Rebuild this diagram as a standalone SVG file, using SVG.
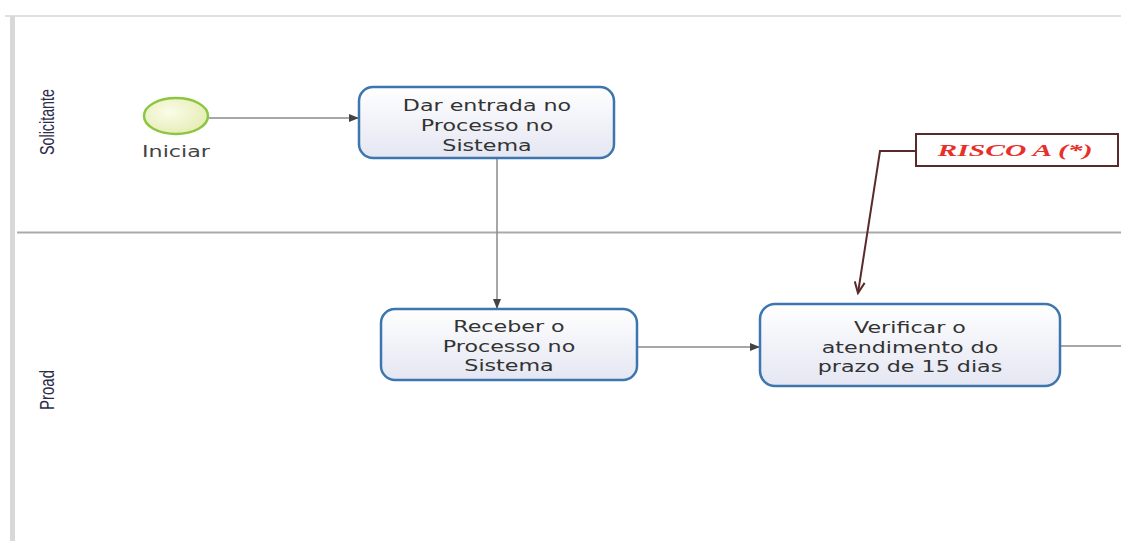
<svg xmlns="http://www.w3.org/2000/svg" width="1121" height="541" viewBox="0 0 1121 541">
<defs>
<linearGradient id="taskFill" x1="0" y1="0" x2="0" y2="1">
<stop offset="0" stop-color="#ffffff"/>
<stop offset="1" stop-color="#e4e6f2"/>
</linearGradient>
<radialGradient id="startFill" cx="0.4" cy="0.4" r="0.7">
<stop offset="0" stop-color="#fbfce8"/>
<stop offset="1" stop-color="#e3ebb0"/>
</radialGradient>
<marker id="arr" markerWidth="10" markerHeight="8" refX="9" refY="4" orient="auto" markerUnits="userSpaceOnUse">
<path d="M0,0 L10,4 L0,8 Z" fill="#444"/>
</marker>
<marker id="openArr" markerWidth="14" markerHeight="12" refX="12" refY="6" orient="auto" markerUnits="userSpaceOnUse">
<path d="M1,1 L12,6 L1,11" fill="none" stroke="#5a2a2a" stroke-width="2"/>
</marker>
</defs>
<style>
.task{fill:url(#taskFill);stroke:#3d76ae;stroke-width:2.5}
.tt{font-family:"DejaVu Sans",sans-serif;font-size:15px;fill:#333;text-anchor:middle}
.lane{font-family:"Liberation Sans",sans-serif;font-size:21px;fill:#2c2c4a;text-anchor:middle}
.flow{stroke:#8a8a8a;stroke-width:1.5;fill:none}
</style>
<rect width="1121" height="541" fill="#ffffff"/>
<g id="pool">
<line x1="5" y1="16" x2="1121" y2="16" stroke="#e0e0e0" stroke-width="2"/>
<rect x="10" y="16" width="5" height="525" fill="#d8d8d8"/>
<line x1="17" y1="232.500" x2="1121" y2="232.500" stroke="#aaaaaa" stroke-width="2"/>
<text class="lane" transform="translate(54,122) rotate(-90)" textLength="66" lengthAdjust="spacingAndGlyphs">Solicitante</text>
<text class="lane" transform="translate(54,390) rotate(-90)" textLength="40" lengthAdjust="spacingAndGlyphs">Proad</text>
</g>
<g id="connectors">
<line class="flow" x1="209" y1="118" x2="358" y2="118" marker-end="url(#arr)"/>
<line class="flow" x1="497" y1="159" x2="497" y2="308" marker-end="url(#arr)" stroke-width="2.5" stroke="#9a9a9a"/>
<line class="flow" x1="637" y1="347" x2="759" y2="347" marker-end="url(#arr)"/>
<line class="flow" x1="1061" y1="346" x2="1121" y2="346"/>
<polyline points="916,151 880,151 858,293" fill="none" stroke="#5a2a2a" stroke-width="2" marker-end="url(#openArr)"/>
</g>
<g id="start">
<ellipse cx="176" cy="116" rx="32" ry="18" fill="url(#startFill)" stroke="#8cc63f" stroke-width="2.5"/>
<text transform="matrix(1.48,0,0,1,-84.48,0)" x="176" y="157" font-family="DejaVu Sans,sans-serif" font-size="15" fill="#444" text-anchor="middle">Iniciar</text>
</g>
<g id="task1">
<rect class="task" x="359" y="87" width="255" height="71" rx="14"/>
<g transform="matrix(1.48,0,0,1,-233.76,0)">
<text class="tt" x="487" y="111">Dar entrada no</text>
<text class="tt" x="487" y="131">Processo no</text>
<text class="tt" x="487" y="151">Sistema</text>
</g>
</g>
<g id="task2">
<rect class="task" x="381" y="309" width="256" height="71" rx="14"/>
<g transform="matrix(1.48,0,0,1,-244.32,0)">
<text class="tt" x="509" y="332">Receber o</text>
<text class="tt" x="509" y="352">Processo no</text>
<text class="tt" x="509" y="371">Sistema</text>
</g>
</g>
<g id="task3">
<rect class="task" x="760" y="304" width="300" height="82" rx="15"/>
<g transform="matrix(1.48,0,0,1,-436.8,0)">
<text class="tt" x="910" y="333">Verificar o</text>
<text class="tt" x="910" y="353">atendimento do</text>
<text class="tt" x="910" y="372">prazo de 15 dias</text>
</g>
</g>
<g id="risco">
<rect x="916" y="134" width="202" height="32" fill="#ffffff" stroke="#5a2a2a" stroke-width="2"/>
<text x="1015" y="156" font-family="Liberation Serif,serif" font-size="17" font-weight="bold" font-style="italic" fill="#e8302a" text-anchor="middle" textLength="155" lengthAdjust="spacingAndGlyphs">RISCO A (*)</text>
</g>
</svg>
